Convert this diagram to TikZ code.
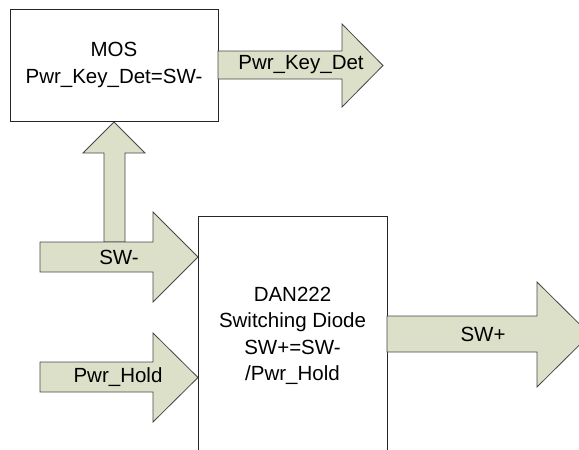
\documentclass[tikz,border=0pt]{standalone}
\usepackage{fontspec}
\setmainfont{Liberation Sans}
\definecolor{arrfill}{RGB}{221,224,200}
\definecolor{arrline}{RGB}{70,70,70}
\begin{document}
\begin{tikzpicture}[x=1pt,y=-1pt,
  blockarrow/.style={fill=arrfill,draw=arrline,line width=0.8pt,line join=miter},
  box/.style={draw=black!85,line width=0.8pt,fill=white,align=center,inner sep=0pt,font=\fontsize{20.5}{26.5}\selectfont},
  lbl/.style={font=\fontsize{20.5}{26.5}\selectfont,inner sep=0pt,align=center}]
\useasboundingbox (0,0) rectangle (579,450);
\clip (0,0) rectangle (579,450);
% up arrow (SW- to MOS)
\draw[blockarrow] (104,242) -- (104,153) -- (83,153) -- (114,122) -- (145,153) -- (125,153) -- (125,242) -- cycle;
% SW- arrow
\draw[blockarrow] (40,242) -- (153,242) -- (153,212) -- (198,257) -- (153,302) -- (153,272) -- (40,272) -- cycle;
\node[lbl] (swm) at (119,257) {SW-};
% Pwr_Hold arrow
\draw[blockarrow] (40,362) -- (153,362) -- (153,333) -- (198,377.5) -- (153,422) -- (153,392) -- (40,392) -- cycle;
\node[lbl] (hold) at (118,377) {Pwr\_Hold};
% DAN222 box
\node[box,minimum width=189,minimum height=240] (dan) at (292.5,336) {DAN222\\Switching Diode\\SW+=SW-\\/Pwr\_Hold};
% SW+ arrow
\draw[blockarrow] (387,316) -- (537,316) -- (537,282) -- (590,334.5) -- (537,387) -- (537,352) -- (387,352) -- cycle;
\node[lbl] (swp) at (483,334) {SW+};
% MOS box
\node[box,minimum width=208,minimum height=112] (mos) at (114,65) {MOS\\Pwr\_Key\_Det=SW-};
% Pwr_Key_Det arrow
\draw[blockarrow] (218,51) -- (342,51) -- (342,24) -- (383,65.5) -- (342,107) -- (342,79) -- (218,79) -- cycle;
\node[lbl] (pkd) at (301,65) {Pwr\_Key\_Det};
\end{tikzpicture}
\end{document}
